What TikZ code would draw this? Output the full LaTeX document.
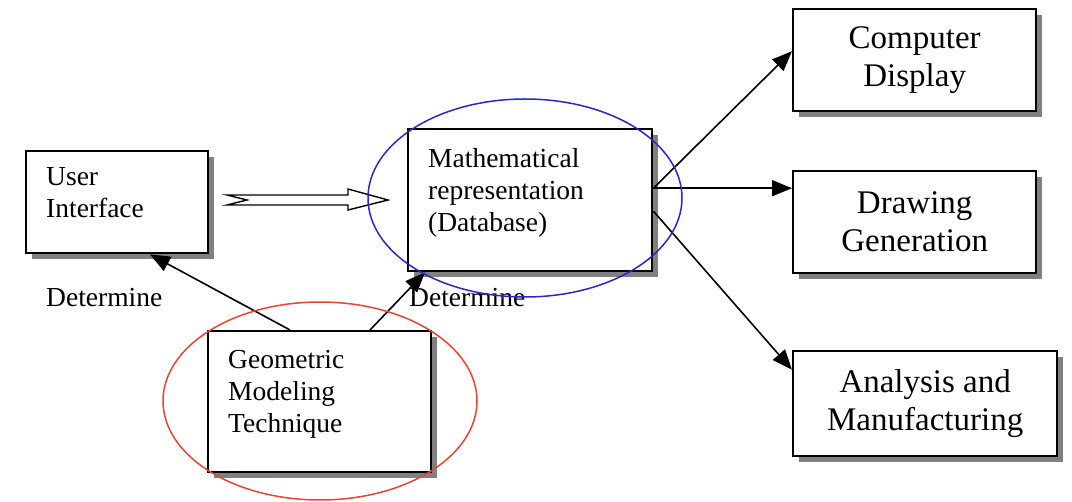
\documentclass[tikz,border=0pt]{standalone}
\usepackage{fontspec}
\setmainfont{Liberation Serif}
\usetikzlibrary{shadows,arrows.meta,calc}
\newcommand{\uplines}[1]{\raisebox{1pt}[0pt][0pt]{\begin{tabular}{@{}l@{}}#1\end{tabular}}}
\begin{document}
\begin{tikzpicture}[x=1pt,y=-1pt,
  box/.style={draw=black, line width=2.4pt, fill=white, rectangle, anchor=north west,
     drop shadow={shadow xshift=6pt, shadow yshift=-6pt, fill=black!50, opacity=1}},
  lbox/.style={box, align=left, font=\fontsize{27.5}{32}\selectfont, inner xsep=20pt},
  rbox/.style={box, align=center, font=\fontsize{33}{38}\selectfont},
  conn/.style={line width=1.6pt, -{Triangle[length=20pt,width=16pt]}},
  lab/.style={font=\fontsize{27.5}{32}\selectfont, anchor=west, inner sep=0pt},
  ]
\useasboundingbox (0,0) rectangle (1072,502);
\fill[white] (0,0) rectangle (1072,502);

\node[lbox, minimum width=182pt, minimum height=102pt, text width=142pt] (ui) at (25,150) {\uplines{User\\Interface}};
\node[lbox, minimum width=244pt, minimum height=142pt, text width=204pt] (math) at (407,128) {\uplines{Mathematical\\representation\\(Database)}};
\node[lbox, minimum width=223pt, minimum height=141pt, text width=183pt] (geo) at (207,330) {\uplines{Geometric\\Modeling\\Technique}};
\node[rbox, minimum width=243pt, minimum height=102pt] (cd) at (792,8) {Computer\\Display};
\node[rbox, minimum width=243pt, minimum height=102pt] (dg) at (792,170) {Drawing\\Generation};
\node[rbox, minimum width=264pt, minimum height=105pt] (am) at (792,350) {Analysis and\\Manufacturing};

\node[lab] (d1) at (46,298) {Determine};
\node[lab] (d2) at (409,298) {Determine};

% hollow arrow
\coordinate (ha) at (227,200);
\draw[line width=1.4pt, fill=white, line join=miter]
  (ha) ++(0,-5) -- ++(121,0) -- ++(0,-6) -- ++(40,11) -- ++(-40,10) -- ++(0,-5)
  -- ++(-121,0) -- ++(20,-5) -- cycle;

\draw[conn] ([xshift=83pt]geo.north west) -- ([xshift=125pt]ui.south west);
\draw[conn] ([xshift=163pt]geo.north west) -- ([xshift=18pt]math.south west);

\draw[conn] ([yshift=12pt]math.east) -- ([yshift=9pt]cd.west);
\draw[conn] ([yshift=12pt]math.east) -- ([yshift=34pt]dg.west);
\draw[conn] ([yshift=-11pt]math.east) -- ([yshift=34pt]am.west);

\definecolor{ellblue}{RGB}{40,40,200}
\definecolor{ellred}{RGB}{230,70,50}
\draw[ellblue, line width=1.5pt] (525,198) ellipse [x radius=157, y radius=99];
\draw[ellred, line width=1.5pt] (320,401) ellipse [x radius=157, y radius=99];
\end{tikzpicture}
\end{document}
